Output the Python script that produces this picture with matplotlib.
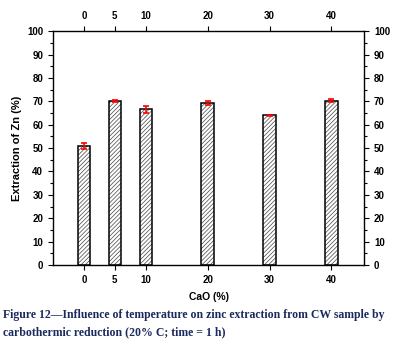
import matplotlib
matplotlib.use("Agg")
import matplotlib.pyplot as plt
from matplotlib.ticker import MultipleLocator

cao = [0, 5, 10, 20, 30, 40]
extraction = [51.0, 70.0, 66.5, 69.2, 64.0, 70.2]
errors = [1.2, 0.5, 1.3, 0.8, 0.3, 0.7]
xticks = [0, 5, 10, 20, 30, 40]

plt.rcParams['font.family'] = ['Liberation Sans', 'DejaVu Sans']
plt.rcParams['hatch.linewidth'] = 0.5

fig = plt.figure(figsize=(3.95, 3.46), dpi=100)
ax = fig.add_axes([0.134, 0.234, 0.788, 0.676])
# hatch layer (gray lines)
ax.bar(cao, extraction, width=2, facecolor='white', edgecolor='#444444',
       hatch='////////', linewidth=0, zorder=2)
# outline layer
ax.bar(cao, extraction, width=2, facecolor='none', edgecolor='black',
       linewidth=1.1, zorder=2.5)
ax.errorbar(cao, extraction, yerr=errors, fmt='none', ecolor='red',
            elinewidth=1.2, capsize=2.5, capthick=1.2, zorder=3)
ax.set_xlim(-5, 45.3)
ax.set_ylim(0, 100)
ax.set_xticks(xticks)
ax.yaxis.set_major_locator(MultipleLocator(10))
ax.yaxis.set_minor_locator(MultipleLocator(5))
ax.tick_params(axis='both', which='both', direction='out',
               top=True, right=True, labeltop=True, labelright=True,
               labelsize=7, width=0.8)
ax.tick_params(which='major', length=3.5)
ax.tick_params(which='minor', length=2)
for t in ax.xaxis.get_major_ticks() + ax.yaxis.get_major_ticks():
    t.label1.set_fontweight('bold')
    t.label2.set_fontweight('bold')
for s in ax.spines.values():
    s.set_linewidth(1.0)
ax.set_xlabel('CaO (%)', fontsize=7.5, fontweight='bold', labelpad=5)
ax.set_ylabel('Extraction of Zn (%)', fontsize=8, fontweight='bold', labelpad=4)

cap_kw = dict(fontsize=8.5, fontweight='bold', color='#1b2a5e',
              family=['Liberation Serif', 'DejaVu Serif'], va='center')
fig.text(0.008, 1 - 315 / 346, 'Figure 12\u2014Influence of temperature on zinc extraction from CW sample by', **cap_kw)
fig.text(0.008, 1 - 332 / 346, 'carbothermic reduction (20% C; time = 1 h)', **cap_kw)

fig.savefig('out.png', dpi=100)
